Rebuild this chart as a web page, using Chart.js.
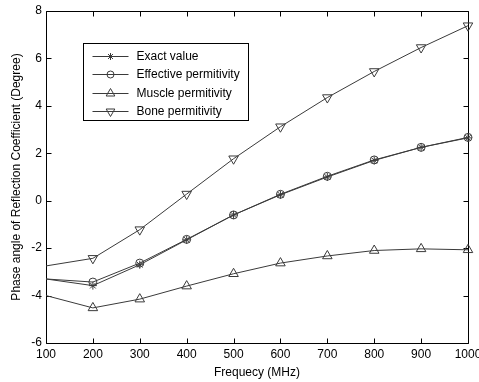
<!DOCTYPE html>
<html>
<head>
<meta charset="utf-8">
<script src="https://cdn.jsdelivr.net/npm/chart.js@4.4.1/dist/chart.umd.min.js"></script>
<style>
  html, body { margin: 0; padding: 0; background: #fff; }
</style>
</head>
<body>
<canvas id="phaseChart" width="479" height="382"></canvas>
<script>
const frequencies = [100, 200, 300, 400, 500, 600, 700, 800, 900, 1000];
const exactValue = [-3.3, -3.58, -2.7, -1.65, -0.6, 0.25, 1.0, 1.7, 2.25, 2.65];
const effectivePerm = [-3.3, -3.43, -2.63, -1.63, -0.6, 0.27, 1.03, 1.72, 2.25, 2.67];
const musclePerm = [-4.0, -4.52, -4.15, -3.6, -3.08, -2.63, -2.33, -2.1, -2.03, -2.07];
const bonePerm = [-2.75, -2.43, -1.22, 0.28, 1.77, 3.12, 4.35, 5.45, 6.46, 7.38];
const yTicks = [-6, -4, -2, 0, 2, 4, 6, 8];

const ink = '#000';
const lineInk = '#3a3a3a';
const font = { family: 'Liberation Sans, Arial, sans-serif', size: 12 };

function series(label, values, style, rotation, radius) {
    return {
        label: label,
        data: frequencies.map((f, i) => ({ x: f, y: values[i] })),
        borderColor: lineInk,
        borderWidth: 1,
        backgroundColor: 'rgba(0,0,0,0)',
        pointStyle: style,
        rotation: rotation,
        // the first sample sits on the axis and carries no marker
        pointRadius: ctx => ctx.dataIndex === 0 ? 0 : radius,
        pointBorderColor: lineInk,
        pointBorderWidth: 1,
        pointBackgroundColor: 'rgba(0,0,0,0)',
        tension: 0,
        clip: false
    };
}

// box around the plot with inward tick marks on all four sides
const frameTicks = {
    id: 'frameTicks',
    beforeDatasetsDraw(chart) {
        const { ctx, chartArea: a, scales: { x, y } } = chart;
        ctx.save();
        ctx.strokeStyle = ink;
        ctx.lineWidth = 1;
        ctx.beginPath();
        const l = Math.round(a.left) + 0.5, r = Math.round(a.right) + 0.5;
        const t = Math.round(a.top) + 0.5, b = Math.round(a.bottom) + 0.5;
        ctx.rect(l, t, r - l, b - t);
        x.ticks.forEach(tk => {
            const px = Math.round(x.getPixelForValue(tk.value)) + 0.5;
            ctx.moveTo(px, b); ctx.lineTo(px, b - 5);
            ctx.moveTo(px, t); ctx.lineTo(px, t + 5);
        });
        y.ticks.forEach(tk => {
            const py = Math.round(y.getPixelForValue(tk.value)) + 0.5;
            ctx.moveTo(l, py); ctx.lineTo(l + 5, py);
            ctx.moveTo(r, py); ctx.lineTo(r - 5, py);
        });
        ctx.stroke();
        ctx.restore();
    }
};

// boxed legend inside the plot, line sample with marker
const boxLegend = {
    id: 'boxLegend',
    afterDatasetsDraw(chart) {
        const { ctx, chartArea: a } = chart;
        const left = Math.round(a.left) + 37.5, top = Math.round(a.top) + 32.5;
        const w = 165, h = 77;
        ctx.save();
        ctx.fillStyle = '#fff';
        ctx.strokeStyle = ink;
        ctx.lineWidth = 1;
        ctx.fillRect(left, top, w, h);
        ctx.strokeRect(left, top, w, h);
        ctx.font = `${font.size}px ${font.family}`;
        ctx.textBaseline = 'middle';
        chart.data.datasets.forEach((ds, i) => {
            const yy = Math.round(top + 12 + i * 18.5) + 0.5;
            ctx.strokeStyle = lineInk;
            ctx.beginPath();
            ctx.moveTo(left + 9, yy);
            ctx.lineTo(left + 45, yy);
            ctx.stroke();
            ctx.fillStyle = 'rgba(0,0,0,0)';
            Chart.helpers.drawPoint(ctx, {
                pointStyle: ds.pointStyle,
                rotation: ds.rotation,
                radius: ds.legendRadius,
                borderWidth: 1
            }, left + 27, yy);
            ctx.fillStyle = ink;
            ctx.fillText(ds.label, left + 53, yy);
        });
        ctx.restore();
    }
};

const datasets = [
    series('Exact value', exactValue, 'star', 0, 4),
    series('Effective permitivity', effectivePerm, 'circle', 0, 4),
    series('Muscle permitivity', musclePerm, 'triangle', 0, 5.5),
    series('Bone permitivity', bonePerm, 'triangle', 180, 5.5)
];
datasets.forEach(ds => { ds.legendRadius = ds.pointStyle === 'triangle' ? 5 : 3.5; });

new Chart(document.getElementById('phaseChart'), {
    type: 'line',
    data: { datasets: datasets },
    options: {
        responsive: false,
        animation: false,
        layout: { padding: { left: 0, right: 11, top: 11, bottom: 0 } },
        plugins: {
            legend: { display: false },
            tooltip: { enabled: false }
        },
        scales: {
            x: {
                type: 'linear',
                min: 100,
                max: 1000,
                afterFit: s => {
                    s.height = 39;
                    // let the end labels run past the plot edges
                    s.paddingLeft = 0;
                    s.paddingRight = 0;
                },
                grid: { display: false, drawTicks: false },
                border: { display: false },
                ticks: {
                    stepSize: 100,
                    autoSkip: false,
                    maxRotation: 0,
                    color: ink,
                    font: font,
                    padding: 4,
                    callback: v => String(v)
                },
                title: {
                    display: true,
                    text: 'Frequecy (MHz)',
                    color: ink,
                    font: font,
                    padding: { top: 0, bottom: 2 }
                }
            },
            y: {
                type: 'linear',
                min: -6,
                max: 8,
                afterFit: s => {
                    s.width = 46;
                    s.paddingTop = 0;
                    s.paddingBottom = 0;
                },
                afterBuildTicks: s => { s.ticks = yTicks.map(v => ({ value: v })); },
                grid: { display: false, drawTicks: false },
                border: { display: false },
                ticks: {
                    color: ink,
                    font: font,
                    padding: 4
                },
                title: {
                    display: true,
                    text: 'Phase angle of Reflection Coefficient (Degree)',
                    color: ink,
                    font: font,
                    padding: { top: 9, bottom: 0 }
                }
            }
        }
    },
    plugins: [frameTicks, boxLegend]
});
</script>
</body>
</html>
